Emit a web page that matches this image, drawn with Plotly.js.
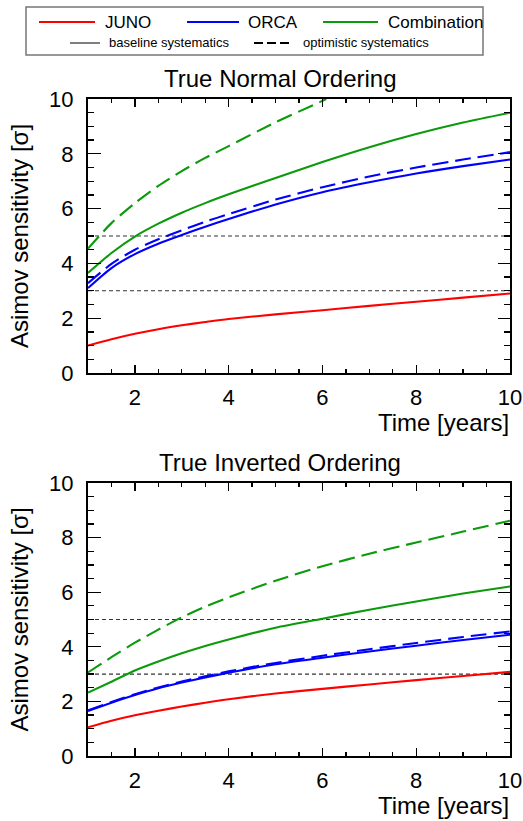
<!DOCTYPE html>
<html>
<head>
<meta charset="utf-8">
<script src="https://cdn.plot.ly/plotly-3.0.1.min.js"></script>
<style>html,body{margin:0;padding:0;background:#fff;}#chart{width:523px;height:821px;}</style>
</head>
<body>
<div id="chart"></div>
<script>
// ---- data ----
const years = [1, 1.5, 2, 2.5, 3, 3.5, 4, 5, 6, 7, 8, 9, 10];

// True Normal Ordering
const noJunoBase   = [1.00, 1.23, 1.43, 1.60, 1.74, 1.86, 1.97, 2.14, 2.29, 2.45, 2.60, 2.75, 2.90];
const noOrcaBase   = [3.10, 3.83, 4.34, 4.72, 5.04, 5.34, 5.62, 6.15, 6.60, 6.96, 7.28, 7.55, 7.79];
const noOrcaOpt    = [3.28, 3.98, 4.50, 4.88, 5.21, 5.52, 5.80, 6.33, 6.78, 7.17, 7.50, 7.79, 8.06];
const noCombBase   = [3.65, 4.38, 4.98, 5.45, 5.85, 6.20, 6.52, 7.12, 7.70, 8.24, 8.72, 9.14, 9.50];
const noCombOptX   = [1, 1.5, 2, 2.5, 3, 3.5, 4, 5, 6, 6.08];
const noCombOpt    = [4.54, 5.47, 6.20, 6.83, 7.37, 7.85, 8.28, 9.15, 9.93, 10.0];

// True Inverted Ordering
const ioJunoBase   = [1.05, 1.29, 1.49, 1.66, 1.81, 1.95, 2.08, 2.29, 2.46, 2.62, 2.78, 2.93, 3.08];
const ioOrcaBase   = [1.65, 1.95, 2.23, 2.48, 2.69, 2.88, 3.05, 3.36, 3.60, 3.83, 4.04, 4.25, 4.44];
const ioOrcaOpt    = [1.67, 1.98, 2.26, 2.51, 2.73, 2.92, 3.10, 3.41, 3.67, 3.91, 4.14, 4.36, 4.56];
const ioCombBase   = [2.32, 2.72, 3.13, 3.46, 3.76, 4.03, 4.27, 4.70, 5.03, 5.36, 5.66, 5.95, 6.21];
const ioCombOpt    = [3.06, 3.62, 4.15, 4.63, 5.08, 5.47, 5.81, 6.42, 6.95, 7.41, 7.82, 8.22, 8.62];

const refLevels = [3, 5];
const refX = [1, 10];

const tickVals = [0, 2, 4, 6, 8, 10];
const xTickVals = [2, 4, 6, 8, 10];

// ---- styling ----
const RED = '#ff0000', BLUE = '#0000ff', GREEN = '#0b9a0b';
const FONT = 'Liberation Sans, Arial, Helvetica, sans-serif';
const DASH = '16px,7px';
const W = 523, H = 821;
const px = v => v / W;
const py = v => 1 - v / H;

function curve(x, y, color, dash, xa, ya) {
  return {x: x, y: y, type: 'scatter', mode: 'lines', xaxis: xa, yaxis: ya,
    line: {color: color, width: 2.1, dash: dash || 'solid', shape: 'spline', smoothing: 0.7},
    showlegend: false, hoverinfo: 'skip'};
}
function refLine(level, xa, ya) {
  return {x: refX, y: [level, level], type: 'scatter', mode: 'lines', xaxis: xa, yaxis: ya,
    line: {color: '#333', width: 1.1, dash: '4px,3px'}, showlegend: false, hoverinfo: 'skip'};
}

const traces = [];
refLevels.forEach(l => { traces.push(refLine(l, 'x', 'y')); traces.push(refLine(l, 'x2', 'y2')); });
traces.push(curve(years, noJunoBase, RED, null, 'x', 'y'));
traces.push(curve(years, noOrcaBase, BLUE, null, 'x', 'y'));
traces.push(curve(years, noOrcaOpt, BLUE, DASH, 'x', 'y'));
traces.push(curve(years, noCombBase, GREEN, null, 'x', 'y'));
traces.push(curve(noCombOptX, noCombOpt, GREEN, DASH, 'x', 'y'));
traces.push(curve(years, ioJunoBase, RED, null, 'x2', 'y2'));
traces.push(curve(years, ioOrcaBase, BLUE, null, 'x2', 'y2'));
traces.push(curve(years, ioOrcaOpt, BLUE, DASH, 'x2', 'y2'));
traces.push(curve(years, ioCombBase, GREEN, null, 'x2', 'y2'));
traces.push(curve(years, ioCombOpt, GREEN, DASH, 'x2', 'y2'));

const xDomain = [px(88), px(510)];
function xaxis(anchor) {
  return {domain: xDomain, anchor: anchor, range: [1, 10], tickvals: xTickVals,
    ticks: 'inside', ticklen: 8, tickwidth: 1.3, tickcolor: '#000',
    minor: {dtick: 0.5, tick0: 0, ticks: 'inside', ticklen: 4, tickwidth: 1.3, tickcolor: '#000'},
    showline: true, linecolor: '#000', linewidth: 2, mirror: 'allticks',
    showgrid: false, zeroline: false, fixedrange: true,
    tickfont: {family: FONT, size: 22, color: '#000'}, ticklabelstandoff: 4};
}
function yaxis(anchor, domain) {
  return {domain: domain, anchor: anchor, range: [0, 10], tickvals: tickVals,
    ticks: 'inside', ticklen: 12.5, tickwidth: 1.3, tickcolor: '#000',
    minor: {dtick: 0.5, tick0: 0, ticks: 'inside', ticklen: 6.3, tickwidth: 1.3, tickcolor: '#000'},
    showline: true, linecolor: '#000', linewidth: 2, mirror: 'allticks',
    showgrid: false, zeroline: false, fixedrange: true,
    tickfont: {family: FONT, size: 22, color: '#000'}, ticklabelstandoff: 8,
    title: {text: 'Asimov sensitivity [σ]', font: {family: FONT, size: 24, color: '#000'}, standoff: 14}};
}

const ann = [];
function text(t, x, y, size, xanchor) {
  ann.push({text: t, x: x, y: y, xref: 'paper', yref: 'paper', showarrow: false,
    xanchor: xanchor || 'center', yanchor: 'middle', font: {family: FONT, size: size, color: '#000'}});
}
text('True Normal Ordering', px(280), py(78), 24);
text('True Inverted Ordering', px(280), py(462), 24);
text('Time [years]', px(511), py(422), 24, 'right');
text('Time [years]', px(511), py(805), 24, 'right');
// legend texts
text('JUNO', px(103), py(22), 17, 'left');
text('ORCA', px(246), py(22), 17, 'left');
text('Combination', px(386), py(22), 17, 'left');
text('baseline systematics', px(107), py(43), 13, 'left');
text('optimistic systematics', px(301), py(43), 13, 'left');

const shapes = [];
shapes.push({type: 'rect', xref: 'paper', yref: 'paper', x0: px(26), x1: px(483), y0: py(55), y1: py(7),
  line: {color: '#777', width: 1.5}, fillcolor: 'rgba(0,0,0,0)'});
function sample(x0, x1, y, color, dash, w) {
  shapes.push({type: 'line', xref: 'paper', yref: 'paper', x0: px(x0), x1: px(x1), y0: py(y), y1: py(y),
    line: {color: color, width: w || 2, dash: dash || 'solid'}});
}
sample(39, 95, 22, RED);
sample(187, 239, 22, BLUE);
sample(323, 378, 22, GREEN);
sample(70, 100, 43, '#555', null, 1.5);
sample(254, 292, 43, '#000', '9px,4px', 2);

const layout = {
  width: W, height: H, margin: {l: 0, r: 0, t: 0, b: 0},
  paper_bgcolor: '#fff', plot_bgcolor: '#fff', showlegend: false,
  xaxis: xaxis('y'), yaxis: yaxis('x', [py(373), py(99)]),
  xaxis2: xaxis('y2'), yaxis2: yaxis('x2', [py(756), py(483)]),
  annotations: ann, shapes: shapes
};
Plotly.newPlot('chart', traces, layout, {staticPlot: true, displayModeBar: false});
</script>
</body>
</html>
